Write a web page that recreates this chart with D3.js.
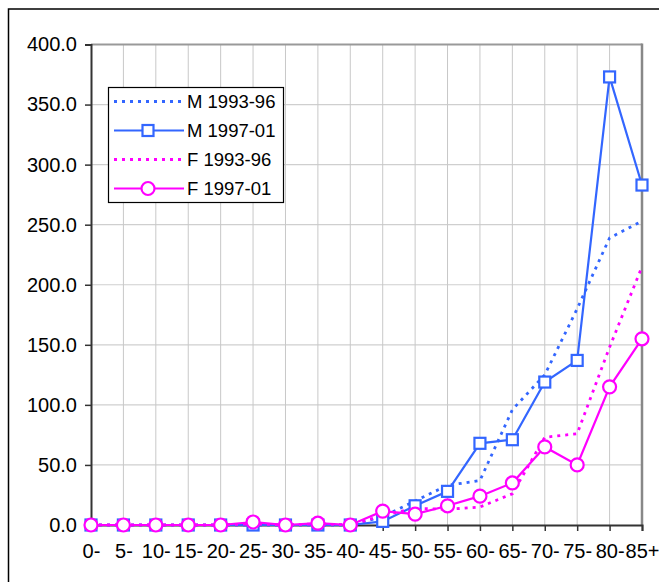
<!DOCTYPE html>
<html><head><meta charset="utf-8">
<script src="https://cdn.jsdelivr.net/npm/d3@7"></script>
<style>html,body{margin:0;padding:0;background:#fff;}svg{display:block;}</style>
</head><body><svg id="c" width="659" height="582"></svg>
<script>
const categories = ["0-","5-","10-","15-","20-","25-","30-","35-","40-","45-","50-","55-","60-","65-","70-","75-","80-","85+"];
const m9396 = [0,0,0,0,0,0,0,0,0,7,20,33,37,96,125,180,239,253];
const m9701 = [0,0,0,0,0,0,0,0,0,3,16,28,68,71,119,137,373,283];
const f9396 = [0,0,0,0,0,1,0,1,0,8,14,13,15,26,73,76,148,215];
const f9701 = [0,0,0,0,0,2.5,0,1.5,0,11.5,9,16,24,35,65,50,115,155];
const yTicks = [0,50,100,150,200,250,300,350,400];
const seriesNames = ["M 1993-96","M 1997-01","F 1993-96","F 1997-01"];

const BLUE = "#3366ff", MAG = "#ff00ff";
const series = [
  {name: seriesNames[0], values: m9396, color: BLUE, dash: "3,5", marker: null},
  {name: seriesNames[1], values: m9701, color: BLUE, dash: null, marker: "square"},
  {name: seriesNames[2], values: f9396, color: MAG, dash: "3,5", marker: null},
  {name: seriesNames[3], values: f9701, color: MAG, dash: null, marker: "circle"}
];

const svg = d3.select("#c");
const L = 91, R = 642, T = 44.5, B = 525;
const x = d3.scalePoint().domain(categories).range([L, R]);
const y = d3.scaleLinear().domain([0, 400]).range([B, T]);
const FONT = "'Liberation Sans', Arial, sans-serif";

// outer frame
svg.append("path").attr("d", "M8.5,582 V9 H659").attr("fill","none").attr("stroke","#000").attr("stroke-width",1.5);

// gridlines
svg.append("g").selectAll("line").data(yTicks.slice(1)).join("line")
  .attr("x1", L).attr("x2", R).attr("y1", d => y(d)).attr("y2", d => y(d))
  .attr("stroke", "#cfcfcf").attr("stroke-width", 1.2);
svg.append("g").selectAll("line").data(categories.slice(1, -1)).join("line")
  .attr("x1", d => x(d)).attr("x2", d => x(d)).attr("y1", T).attr("y2", B)
  .attr("stroke", "#c8c8c8").attr("stroke-width", 1);

// plot border top/right
svg.append("line").attr("x1", L).attr("x2", R).attr("y1", T).attr("y2", T).attr("stroke", "#999").attr("stroke-width", 2);
svg.append("line").attr("x1", R).attr("x2", R).attr("y1", T - 1).attr("y2", B).attr("stroke", "#888").attr("stroke-width", 2.5);

// axes
const yAxis = d3.axisLeft(y).tickValues(yTicks).tickSize(6).tickPadding(8).tickFormat(d3.format(".1f"));
const gy = svg.append("g").attr("transform", `translate(${L},0)`).call(yAxis);
gy.select(".domain").attr("stroke", "#333").attr("stroke-width", 2);
gy.selectAll(".tick line").attr("stroke", "#333").attr("stroke-width", 1.5);
gy.selectAll("text").attr("font-family", FONT).attr("font-size", "20px").attr("fill", "#000");

const xAxis = d3.axisBottom(x).tickSize(6).tickPadding(13);
const gx = svg.append("g").attr("transform", `translate(0,${B})`).call(xAxis);
gx.select(".domain").attr("stroke", "#333").attr("stroke-width", 2);
gx.selectAll(".tick line").attr("stroke", "#333").attr("stroke-width", 1.5);
gx.selectAll("text").attr("font-family", FONT).attr("font-size", "20px").attr("fill", "#000");

// lines
const line = d3.line().x((d, i) => x(categories[i])).y(d => y(d));
series.forEach(s => {
  svg.append("path").datum(s.values).attr("d", line)
    .attr("fill", "none").attr("stroke", s.color)
    .attr("stroke-width", s.dash ? 2.8 : 2.2)
    .attr("stroke-dasharray", s.dash);
});
function drawMarker(g, type, cx, cy, color) {
  if (type === "square") {
    g.append("rect").attr("x", cx - 5.5).attr("y", cy - 5.5).attr("width", 11).attr("height", 11)
      .attr("fill", "#fff").attr("stroke", color).attr("stroke-width", 2.2);
  } else if (type === "circle") {
    g.append("circle").attr("cx", cx).attr("cy", cy).attr("r", 6.5)
      .attr("fill", "#fff").attr("stroke", color).attr("stroke-width", 2.2);
  }
}
series.filter(s => s.marker).forEach(s => {
  const g = svg.append("g");
  s.values.forEach((v, i) => drawMarker(g, s.marker, x(categories[i]), y(v), s.color));
});

// legend
const lg = svg.append("g");
lg.append("rect").attr("x", 108.5).attr("y", 87.5).attr("width", 175).attr("height", 115)
  .attr("fill", "#fff").attr("stroke", "#000").attr("stroke-width", 1.2);
series.forEach((s, i) => {
  const yy = 101.5 + i * 29;
  lg.append("line").attr("x1", 114).attr("x2", 184).attr("y1", yy).attr("y2", yy)
    .attr("stroke", s.color).attr("stroke-width", s.dash ? 2.8 : 2.2).attr("stroke-dasharray", s.dash);
  drawMarker(lg, s.marker, 148, yy, s.color);
  lg.append("text").attr("x", 187).attr("y", yy).attr("dy", "0.35em")
    .attr("font-family", FONT).attr("font-size", "18.5px").text(s.name);
});
</script></body></html>
